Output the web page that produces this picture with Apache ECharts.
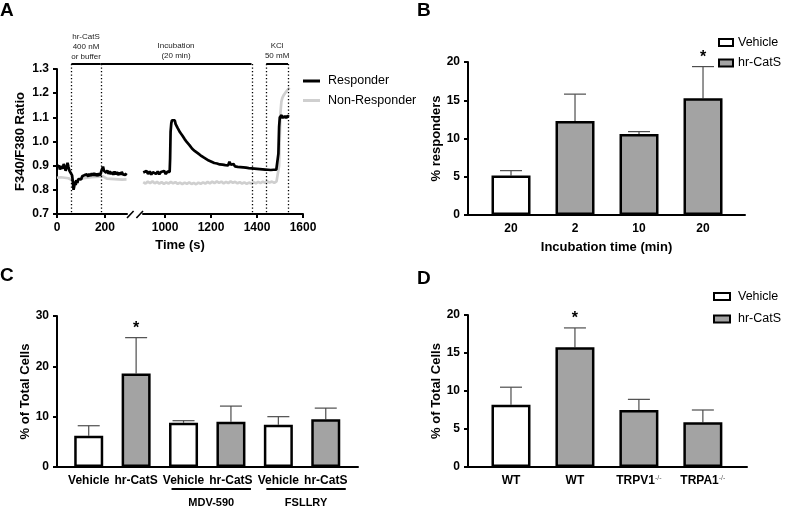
<!DOCTYPE html>
<html>
<head>
<meta charset="utf-8">
<script src="https://cdn.jsdelivr.net/npm/echarts@6/dist/echarts.min.js"></script>
<style>
  html, body { margin: 0; padding: 0; background: #fff; }
  #main { width: 787px; height: 508px; }
</style>
</head>
<body>
<div id="main"></div>
<script>
// ---- Panel A: calcium traces, [time (s), F340/F380] ----
const respEarly = [[0,0.905],[4,0.893],[8,0.902],[12,0.884],[16,0.897],[20,0.9],[24,0.888],[28,0.907],[32,0.893],[36,0.879],[40,0.892],[44,0.912],[48,0.894],[52,0.879],[56,0.887],[60,0.875],[63,0.86],[66,0.835],[69,0.8],[72,0.815],[75,0.835],[78,0.82],[81,0.84],[85,0.828],[89,0.845],[93,0.838],[97,0.852],[101,0.843],[105,0.856],[110,0.848],[115,0.861],[120,0.853],[125,0.864],[130,0.855],[135,0.866],[140,0.857],[145,0.868],[150,0.859],[155,0.869],[160,0.858],[165,0.867],[170,0.857],[175,0.868],[180,0.859],[184,0.874],[188,0.886],[192,0.896],[196,0.879],[200,0.887],[205,0.871],[210,0.88],[215,0.866],[220,0.877],[225,0.865],[230,0.874],[235,0.862],[240,0.876],[245,0.864],[250,0.874],[255,0.861],[260,0.872],[265,0.863],[270,0.874],[275,0.864],[280,0.872],[285,0.862],[290,0.869]];
const respLate = [[905,0.872],[912,0.864],[919,0.878],[926,0.866],[933,0.876],[940,0.863],[947,0.873],[954,0.88],[961,0.866],[968,0.876],[975,0.864],[982,0.874],[989,0.866],[996,0.878],[1003,0.865],[1010,0.875],[1016,0.867],[1020,0.874],[1022,0.93],[1024,1.04],[1027,1.075],[1030,1.088],[1034,1.092],[1038,1.083],[1042,1.088],[1046,1.072],[1050,1.066],[1055,1.055],[1060,1.05],[1065,1.038],[1070,1.035],[1075,1.025],[1080,1.022],[1085,1.01],[1090,1.006],[1095,0.997],[1100,0.994],[1106,0.985],[1112,0.98],[1118,0.97],[1124,0.968],[1130,0.96],[1136,0.958],[1142,0.952],[1148,0.95],[1154,0.943],[1160,0.942],[1166,0.935],[1172,0.936],[1178,0.928],[1184,0.93],[1190,0.921],[1196,0.926],[1202,0.916],[1208,0.921],[1214,0.911],[1220,0.918],[1226,0.909],[1232,0.915],[1238,0.905],[1244,0.913],[1250,0.904],[1256,0.911],[1262,0.902],[1268,0.909],[1274,0.901],[1280,0.916],[1286,0.904],[1292,0.899],[1298,0.907],[1304,0.897],[1310,0.904],[1316,0.895],[1322,0.903],[1328,0.894],[1334,0.901],[1340,0.893],[1346,0.9],[1352,0.892],[1358,0.899],[1364,0.89],[1370,0.898],[1376,0.889],[1382,0.897],[1388,0.888],[1394,0.896],[1400,0.887],[1406,0.895],[1412,0.886],[1418,0.893],[1424,0.885],[1430,0.892],[1436,0.884],[1442,0.891],[1448,0.883],[1454,0.89],[1460,0.882],[1466,0.889],[1472,0.883],[1478,0.89],[1484,0.884],[1490,0.888],[1493,0.95],[1496,1.06],[1499,1.1],[1503,1.094],[1507,1.109],[1511,1.096],[1515,1.106],[1519,1.097],[1523,1.107],[1527,1.096],[1531,1.105],[1535,1.098],[1540,1.102]];
const nonRespEarly = [[0,0.85],[8,0.845],[16,0.852],[24,0.846],[32,0.85],[40,0.843],[48,0.848],[56,0.845],[62,0.84],[68,0.828],[74,0.832],[80,0.838],[88,0.842],[96,0.846],[104,0.84],[112,0.848],[120,0.842],[128,0.85],[136,0.845],[144,0.852],[152,0.846],[160,0.853],[168,0.848],[176,0.855],[184,0.85],[192,0.856],[200,0.85],[208,0.846],[216,0.852],[224,0.845],[232,0.85],[240,0.844],[248,0.849],[256,0.843],[264,0.848],[272,0.842],[280,0.847],[290,0.843]];
const nonRespLate = [[905,0.832],[915,0.826],[925,0.834],[935,0.828],[945,0.835],[955,0.827],[965,0.833],[975,0.826],[985,0.832],[995,0.825],[1005,0.831],[1015,0.826],[1025,0.833],[1035,0.827],[1045,0.832],[1055,0.825],[1065,0.83],[1075,0.824],[1085,0.83],[1095,0.825],[1105,0.831],[1115,0.824],[1125,0.829],[1135,0.823],[1145,0.83],[1155,0.825],[1165,0.831],[1175,0.826],[1185,0.833],[1195,0.827],[1205,0.834],[1215,0.828],[1225,0.835],[1235,0.829],[1245,0.834],[1255,0.827],[1265,0.833],[1275,0.828],[1285,0.835],[1295,0.829],[1305,0.833],[1315,0.827],[1325,0.832],[1335,0.826],[1345,0.831],[1355,0.825],[1365,0.83],[1375,0.826],[1385,0.832],[1395,0.827],[1405,0.833],[1415,0.828],[1425,0.834],[1435,0.829],[1445,0.835],[1455,0.83],[1465,0.834],[1475,0.829],[1485,0.835],[1492,0.84],[1496,0.9],[1499,1.02],[1502,1.12],[1506,1.165],[1510,1.18],[1515,1.19],[1520,1.198],[1525,1.204],[1530,1.21],[1535,1.216],[1542,1.222]];
const aTicksEarly = [0, 200];
const aTicksLate = [1000, 1200, 1400, 1600];
const markerTimes = [60, 182, 1380, 1440, 1535];
const protocolSteps = [
  { from: 60, to: 182, text: 'hr-CatS\n400 nM\nor buffer' },
  { from: 182, to: 1376, text: 'Incubation\n(20 min)' },
  { from: 1440, to: 1535, text: 'KCl\n50 mM' }
];

// ---- Panel B: % responders vs incubation time ----
const bLabels = ['20', '2', '10', '20'];
const bGroups = ['Vehicle', 'hr-CatS', 'hr-CatS', 'hr-CatS'];
const bMeans = [5.15, 12.3, 10.6, 15.25];
const bErrTop = [5.8, 15.8, 10.9, 19.4];
const bStars = [0, 0, 0, 1];

// ---- Panel C: % of total cells with antagonists ----
const cLabels = ['Vehicle', 'hr-CatS', 'Vehicle', 'hr-CatS', 'Vehicle', 'hr-CatS'];
const cGroups = ['Vehicle', 'hr-CatS', 'Vehicle', 'hr-CatS', 'Vehicle', 'hr-CatS'];
const cMeans = [6.2, 18.6, 8.8, 9.0, 8.4, 9.5];
const cErrTop = [8.2, 25.7, 9.2, 12.1, 10.0, 11.7];
const cStars = [0, 1, 0, 0, 0, 0];
const cBrackets = [{ name: 'MDV-590', from: 2, to: 3 }, { name: 'FSLLRY', from: 4, to: 5 }];

// ---- Panel D: knockout mice ----
const dLabels = ['WT', 'WT', 'TRPV1', 'TRPA1'];
const dSup = ['', '', '-/-', '-/-'];
const dGroups = ['Vehicle', 'hr-CatS', 'hr-CatS', 'hr-CatS'];
const dMeans = [8.2, 15.75, 7.5, 5.9];
const dErrTop = [10.5, 18.3, 8.9, 7.5];
const dStars = [0, 1, 0, 0];

const FONT = '"Liberation Sans", Arial, sans-serif';
const GROUP_FILL = { 'Vehicle': '#ffffff', 'hr-CatS': '#a3a3a3' };

const chart = echarts.init(document.getElementById('main'));

function yAxisFor(grid, min, max, interval, name, nameGap, fmt) {
  return {
    type: 'value', gridIndex: grid, min: min, max: max, interval: interval,
    name: name, nameLocation: 'middle', nameGap: nameGap,
    nameTextStyle: { color: '#000', fontWeight: 'bold', fontSize: 13, fontFamily: FONT },
    axisLine: { show: true, onZero: false, lineStyle: { color: '#000', width: 2 } },
    axisTick: { show: true, length: 4, lineStyle: { color: '#000', width: 2 } },
    axisLabel: { color: '#000', fontWeight: 'bold', fontSize: 12, margin: 8, fontFamily: FONT, formatter: fmt },
    splitLine: { show: false }
  };
}

function barXAxis(grid, min, max, labels, extra) {
  const idx = labels.map((_, i) => i);
  return Object.assign({
    type: 'value', gridIndex: grid, min: min, max: max,
    axisLine: { show: true, onZero: false, lineStyle: { color: '#000', width: 2 } },
    axisTick: { show: false },
    axisLabel: {
      customValues: idx, color: '#000', fontWeight: 'bold', fontSize: 12, margin: 8, fontFamily: FONT,
      formatter: v => labels[Math.round(v)]
    },
    splitLine: { show: false }
  }, extra || {});
}

function timeXAxis(grid, min, max, ticks) {
  return {
    type: 'value', gridIndex: grid, min: min, max: max,
    axisLine: { show: true, onZero: false, lineStyle: { color: '#000', width: 2 } },
    axisTick: { show: true, customValues: ticks, length: 4, lineStyle: { color: '#000', width: 2 } },
    axisLabel: { customValues: ticks, color: '#000', fontWeight: 'bold', fontSize: 12, margin: 8,
      fontFamily: FONT, formatter: v => String(v) },
    splitLine: { show: false }
  };
}

// bars + error bars (+ significance stars) for one bar panel
function barSeries(axis, means, errTop, groups, stars, barWidth) {
  const out = [];
  ['Vehicle', 'hr-CatS'].forEach(g => {
    out.push({
      type: 'bar', name: g, xAxisIndex: axis, yAxisIndex: axis,
      barWidth: barWidth, barGap: '-100%', z: 3,
      itemStyle: { color: GROUP_FILL[g], borderColor: '#000', borderWidth: 2.5 },
      data: means.map((m, i) => [i, m]).filter((d, i) => groups[i] === g)
    });
  });
  out.push({
    type: 'custom', xAxisIndex: axis, yAxisIndex: axis, z: 2, silent: true,
    data: means.map((m, i) => [i, m, errTop[i], stars[i]]),
    renderItem: (params, api) => {
      const base = api.coord([api.value(0), api.value(1)]);
      const top = api.coord([api.value(0), api.value(2)]);
      const children = [
        { type: 'line', shape: { x1: base[0], y1: base[1], x2: top[0], y2: top[1] }, style: { stroke: '#4d4d4d', lineWidth: 1.2 } },
        { type: 'line', shape: { x1: top[0] - 11, y1: top[1], x2: top[0] + 11, y2: top[1] }, style: { stroke: '#4d4d4d', lineWidth: 1.2 } }
      ];
      if (api.value(3)) {
        children.push({ type: 'text', x: top[0], y: top[1] - 1,
          style: { text: '*', textAlign: 'center', textVerticalAlign: 'bottom', fontSize: 16, fontWeight: 'bold', fontFamily: FONT, fill: '#000' } });
      }
      return { type: 'group', children: children };
    }
  });
  return out;
}

const lineSeries = (name, color, axis, data, z) => ({
  type: 'line', name: name, xAxisIndex: axis, yAxisIndex: axis, data: data,
  showSymbol: false, symbol: 'none', z: z,
  lineStyle: { color: color, width: 2.7 }, itemStyle: { color: color }
});

const legendText = { color: '#000', fontSize: 12.5, fontFamily: FONT };

const option = {
  animation: false,
  textStyle: { fontFamily: FONT },
  grid: [
    { left: 57, top: 69, width: 70, height: 145 },   // A early
    { left: 143, top: 69, width: 160, height: 145 }, // A late
    { left: 468, top: 62, width: 277, height: 153 }, // B
    { left: 57, top: 316, width: 301, height: 151 }, // C
    { left: 468, top: 315, width: 279, height: 152 } // D
  ],
  legend: [
    { orient: 'vertical', left: 303, top: 74.5, padding: 0, icon: 'rect', itemWidth: 17, itemHeight: 3, itemGap: 6.5,
      data: ['Responder', 'Non-Responder'], textStyle: Object.assign({ padding: [0, 0, 0, 3] }, legendText) },
    { orient: 'vertical', left: 718, top: 36, padding: 0, icon: 'rect', itemWidth: 14, itemHeight: 7, itemGap: 7.5,
      data: ['Vehicle', 'hr-CatS'], textStyle: legendText },
    { orient: 'vertical', left: 713, top: 290, padding: 0, icon: 'rect', itemWidth: 16, itemHeight: 7, itemGap: 9.5,
      data: ['Vehicle', 'hr-CatS'], textStyle: Object.assign({ padding: [0, 0, 0, 3] }, legendText) }
  ],
  xAxis: [
    timeXAxis(0, 0, 292, aTicksEarly),
    timeXAxis(1, 904, 1600, aTicksLate),
    barXAxis(2, -0.672, 3.656, bLabels, {
      name: 'Incubation time (min)', nameLocation: 'middle', nameGap: 26,
      nameTextStyle: { color: '#000', fontWeight: 'bold', fontSize: 13, fontFamily: FONT }
    }),
    barXAxis(3, -0.669, 5.68, cLabels),
    barXAxis(4, -0.672, 3.69, dLabels, {
      axisLabel: {
        customValues: [0, 1, 2, 3], margin: 8,
        formatter: v => { const i = Math.round(v); return dSup[i] ? '{n|' + dLabels[i] + '}{s|' + dSup[i] + '}' : '{n|' + dLabels[i] + '}'; },
        rich: {
          n: { color: '#000', fontWeight: 'bold', fontSize: 12, fontFamily: FONT },
          s: { color: '#555', fontSize: 7, verticalAlign: 'top', fontFamily: FONT }
        }
      }
    })
  ],
  yAxis: [
    yAxisFor(0, 0.7, 1.3, 0.1, 'F340/F380 Ratio', 30, v => v.toFixed(1)),
    Object.assign(yAxisFor(1, 0.7, 1.3, 0.1), { show: false }),
    yAxisFor(2, 0, 20, 5, '% responders', 25),
    yAxisFor(3, 0, 30, 10, '% of Total Cells', 24),
    yAxisFor(4, 0, 20, 5, '% of Total Cells', 25)
  ],
  series: [
    lineSeries('Non-Responder', '#cfcfcf', 0, nonRespEarly, 2),
    lineSeries('Non-Responder', '#cfcfcf', 1, nonRespLate, 2),
    lineSeries('Responder', '#000000', 0, respEarly, 3),
    lineSeries('Responder', '#000000', 1, respLate, 3)
  ].concat(
    barSeries(2, bMeans, bErrTop, bGroups, bStars, 39),
    barSeries(3, cMeans, cErrTop, cGroups, cStars, 29),
    barSeries(4, dMeans, dErrTop, dGroups, dStars, 39)
  )
};

chart.setOption(option);

// ---- annotations positioned through the axes ----
const gridOf = t => (t < 600 ? 0 : 1);
const tx = t => chart.convertToPixel({ xAxisIndex: gridOf(t) }, t);
const yTop = chart.convertToPixel({ yAxisIndex: 0 }, 1.3);
const yBottom = chart.convertToPixel({ yAxisIndex: 0 }, 0.7);
const barY = yTop - 5;
const graphics = [];

markerTimes.forEach(t => {
  const x = Math.round(tx(t)) + 0.5;
  graphics.push({ type: 'line', shape: { x1: x, y1: barY, x2: x, y2: yBottom },
    style: { stroke: '#000', lineWidth: 1.3, lineDash: [1.3, 2.2] }, z: 10 });
});

protocolSteps.forEach(s => {
  const x1 = tx(s.from), x2 = tx(s.to);
  graphics.push({ type: 'line', shape: { x1: x1, y1: barY, x2: x2, y2: barY },
    style: { stroke: '#000', lineWidth: 2 }, z: 10 });
  const lines = s.text.split('\n').length;
  graphics.push({ type: 'text', x: (x1 + x2) / 2, y: barY - 2 - (lines === 3 ? 0 : 1.5), z: 10,
    style: { text: s.text, textAlign: 'center', textVerticalAlign: 'bottom', fontSize: 8, lineHeight: 10,
      fontFamily: FONT, fill: '#222' } });
});

// axis break marks between the two time segments
const xBreakL = chart.convertToPixel({ xAxisIndex: 0 }, 292);
const xBreakR = chart.convertToPixel({ xAxisIndex: 1 }, 904);
[xBreakL, xBreakR - 6.6].forEach(x0 => {
  graphics.push({ type: 'line', shape: { x1: x0, y1: yBottom + 4, x2: x0 + 6.6, y2: yBottom - 3 },
    style: { stroke: '#000', lineWidth: 1.6 }, z: 10 });
});

graphics.push({ type: 'text', x: (chart.convertToPixel({ xAxisIndex: 0 }, 0) + chart.convertToPixel({ xAxisIndex: 1 }, 1600)) / 2,
  y: yBottom + 31, style: { text: 'Time (s)', textAlign: 'center', textVerticalAlign: 'middle',
    fontSize: 13, fontWeight: 'bold', fontFamily: FONT, fill: '#000' } });

// treatment brackets under panel C labels
const cBase = chart.convertToPixel({ yAxisIndex: 3 }, 0);
cBrackets.forEach(b => {
  const x1 = chart.convertToPixel({ xAxisIndex: 3 }, b.from) - 12;
  const x2 = chart.convertToPixel({ xAxisIndex: 3 }, b.to) + 20;
  graphics.push({ type: 'line', shape: { x1: x1, y1: cBase + 22, x2: x2, y2: cBase + 22 },
    style: { stroke: '#000', lineWidth: 2 } });
  graphics.push({ type: 'text', x: (x1 + x2) / 2, y: cBase + 36,
    style: { text: b.name, textAlign: 'center', textVerticalAlign: 'middle', fontSize: 11, fontWeight: 'bold',
      fontFamily: FONT, fill: '#000' } });
});

// panel letters
[['A', 0, 1], ['B', 417, 1], ['C', 0, 266], ['D', 417, 269]].forEach(p => {
  graphics.push({ type: 'text', x: p[1], y: p[2], style: { text: p[0], fontSize: 19, fontWeight: 'bold',
    fontFamily: FONT, fill: '#000' } });
});

chart.setOption({ graphic: graphics });
</script>
</body>
</html>
